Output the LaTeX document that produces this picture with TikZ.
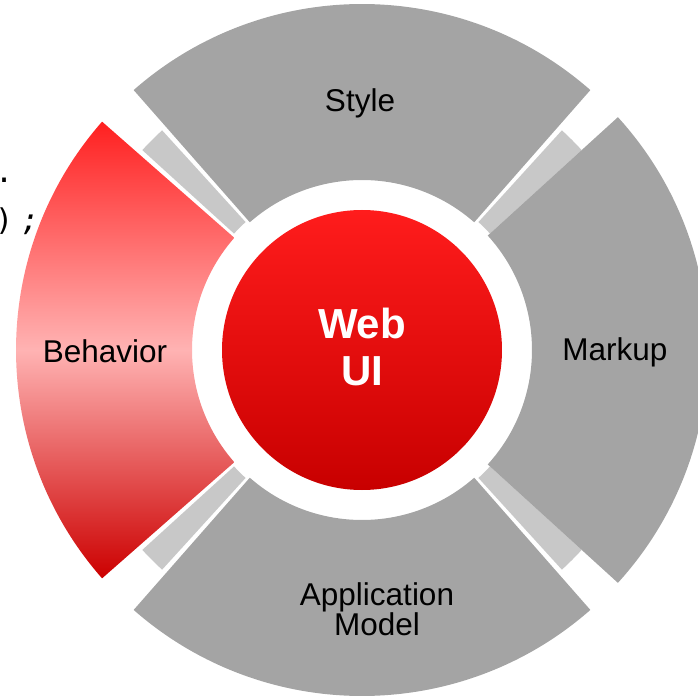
\documentclass[tikz,border=0pt]{standalone}
\usepackage{fontspec}
\setmainfont{Liberation Sans}
\setmonofont{DejaVu Sans Mono}
\definecolor{segGray}{HTML}{A4A4A4}
\definecolor{barGray}{HTML}{C8C8C8}
\definecolor{redTop}{HTML}{FF1C1C}
\definecolor{redBot}{HTML}{C80000}
\definecolor{behTop}{HTML}{FF2020}
\definecolor{behMid}{HTML}{FFB3B3}
\definecolor{behBot}{HTML}{CC0000}
\tikzset{
  seg/.style={fill=segGray},
  bar/.style={fill=barGray},
  lbl/.style={inner sep=0pt, font=\fontsize{31.5}{30}\selectfont, text=black, align=center},
  core/.style={inner sep=0pt, font=\fontsize{42}{47}\selectfont\bfseries, text=white, align=center},
  code/.style={inner sep=0pt, font=\fontsize{30}{34}\selectfont\ttfamily, text=black, anchor=base west}
}
\begin{document}
\begin{tikzpicture}[x=1pt,y=1pt]
\useasboundingbox (0,0) rectangle (698,697);
\coordinate (C) at (362,347);
\begin{scope}[shift={(362,347)}]
  % light gray bars on the diagonals
  \foreach \c in {45,135,225,315}{
    \fill[bar] (\c-2.7:173pt) arc[start angle=\c-2.7, end angle=\c+2.7, radius=173pt]
      -- (\c+2.7:297pt) arc[start angle=\c+2.7, end angle=\c-2.7, radius=297pt] -- cycle;
  }
  % Style
  \fill[seg] (48.7:170pt) arc[start angle=48.7, end angle=131.3, radius=170pt]
    -- (131.3:346pt) arc[start angle=131.3, end angle=48.7, radius=346pt] -- cycle;
  % Application Model
  \fill[seg] (228.7:170pt) arc[start angle=228.7, end angle=311.3, radius=170pt]
    -- (311.3:346pt) arc[start angle=311.3, end angle=228.7, radius=346pt] -- cycle;
  % Markup
  \fill[seg] (-42.3:170pt) arc[start angle=-42.3, end angle=42.3, radius=170pt]
    -- (42.3:346pt) arc[start angle=42.3, end angle=-42.3, radius=346pt] -- cycle;
  % Behavior
  \shade[top color=behTop, bottom color=behBot, middle color=behMid]
    (138.7:170pt) arc[start angle=138.7, end angle=221.3, radius=170pt]
    -- (221.3:346pt) arc[start angle=221.3, end angle=138.7, radius=346pt] -- cycle;
  % central circle
  \shade[top color=redTop, bottom color=redBot] (0,0) circle[radius=140pt];
\end{scope}
\node[lbl, anchor=base] (style) at (360,585) {Style};
\node[lbl, anchor=base] (markup) at (615,337) {Markup};
\node[lbl, anchor=base] (behavior) at (105,335) {Behavior};
\node[lbl, anchor=base] (appmodel) at (377,62) {Application\\Model};
\node[core, anchor=base] (webui) at (362,312) {Web\\UI};
\node[code] (dot) at (-5,514) {.};
\node[code] (paren) at (-5,466) {)};
\node[code] (semi) at (21,466) {\itshape ;};
\end{tikzpicture}
\end{document}
